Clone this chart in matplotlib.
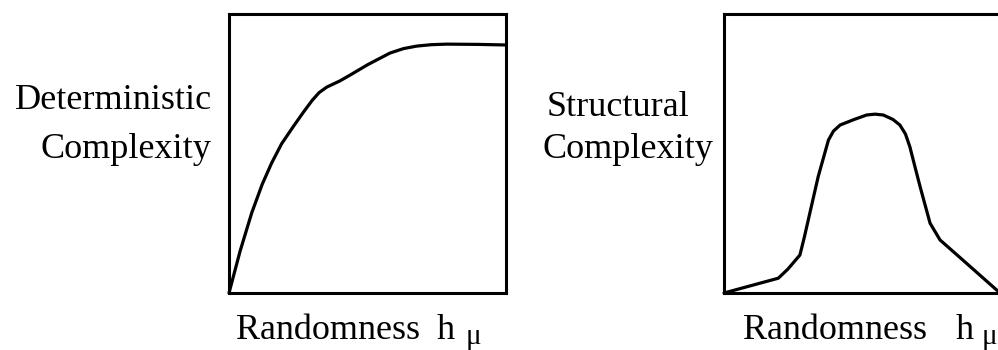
import numpy as np
import matplotlib
matplotlib.use('Agg')
import matplotlib.pyplot as plt

plt.rcParams['font.family'] = ['Liberation Serif', 'DejaVu Serif']

# deterministic complexity vs randomness (normalised 0..1)
det_x = [0.0, 0.04, 0.082, 0.12, 0.154, 0.19, 0.231, 0.27, 0.300, 0.325, 0.353, 0.40, 0.437, 0.50, 0.581, 0.63, 0.678, 0.73, 0.786, 0.90, 1.0]
det_y = [0.0, 0.15, 0.287, 0.39, 0.466, 0.535, 0.595, 0.650, 0.690, 0.718, 0.738, 0.760, 0.781, 0.818, 0.860, 0.876, 0.885, 0.890, 0.892, 0.891, 0.889]

# structural complexity vs randomness
str_x = [0.0, 0.196, 0.23, 0.274, 0.290, 0.310, 0.340, 0.377, 0.395, 0.419, 0.47, 0.515, 0.545, 0.575, 0.61, 0.635, 0.655, 0.671, 0.690, 0.708, 0.744, 0.780, 0.876, 0.984, 1.0]
str_y = [0.0, 0.053, 0.085, 0.136, 0.200, 0.287, 0.417, 0.548, 0.580, 0.602, 0.622, 0.638, 0.641, 0.638, 0.622, 0.602, 0.570, 0.524, 0.450, 0.381, 0.250, 0.190, 0.106, 0.011, 0.0]

W, H = 998, 350
fig = plt.figure(figsize=(W / 100, H / 100), dpi=100)

ax1 = fig.add_axes([229 / W, 1 - 293 / H, 277 / W, 279 / H])
ax2 = fig.add_axes([724 / W, 1 - 293 / H, 277 / W, 279 / H])

for ax, xs, ys in [(ax1, det_x, det_y), (ax2, str_x, str_y)]:
    ax.plot(xs, ys, color='black', lw=2.3, solid_joinstyle='round', solid_capstyle='round', clip_on=False)
    ax.set_xlim(0, 1)
    ax.set_ylim(0, 1)
    ax.set_xticks([])
    ax.set_yticks([])
    for s in ax.spines.values():
        s.set_linewidth(2.2)
        s.set_color('black')

fs = 26


def txt(px, py, s, size=fs, ha='left'):
    fig.text(px / W, 1 - py / H, s, fontsize=size, ha=ha, va='baseline')


# y labels
txt(212, 109, 'Deterministic', ha='right')
txt(211, 158, 'Complexity', ha='right')
txt(547, 116, 'Structural')
txt(542, 158, 'Complexity')

# x labels
txt(236, 339, 'Randomness')
txt(437, 339, 'h')
txt(466, 344, 'μ', size=21)
txt(743, 339, 'Randomness')
txt(956, 339, 'h')
txt(982, 344, 'μ', size=21)

fig.savefig('out.png', dpi=100)
